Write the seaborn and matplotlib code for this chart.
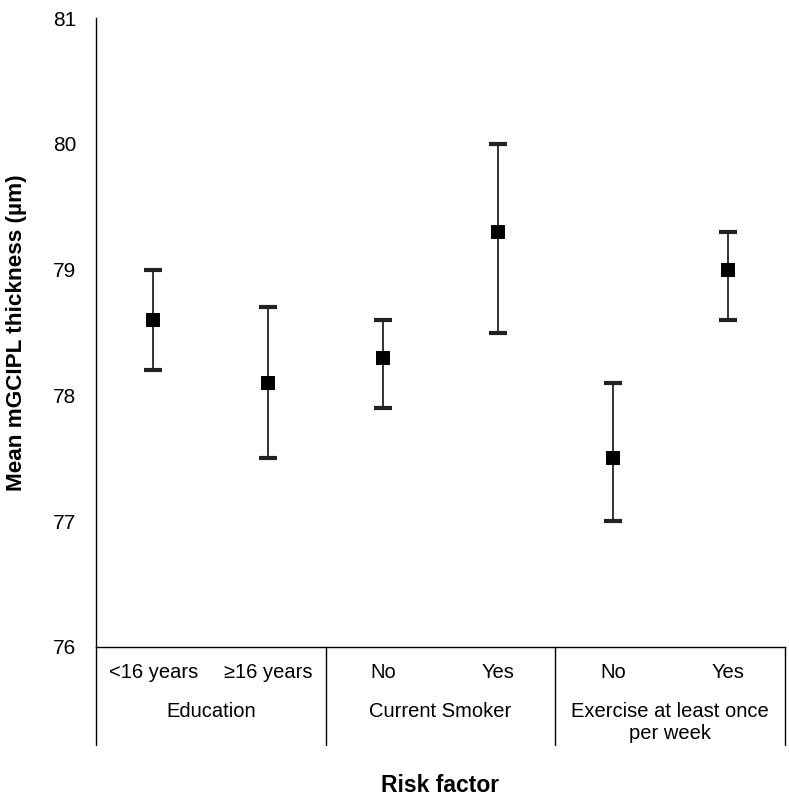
import numpy as np
import pandas as pd
import matplotlib
matplotlib.use("Agg")
import matplotlib.pyplot as plt
import seaborn as sns

# values
categories = ["<16 years", "\u226516 years", "No", "Yes", "No", "Yes"]
means = [78.6, 78.1, 78.3, 79.3, 77.5, 79.0]
lower = [78.2, 77.5, 77.9, 78.5, 77.0, 78.6]
upper = [79.0, 78.7, 78.6, 80.0, 78.1, 79.3]
groups = ["Education", "Current Smoker", "Exercise at least once\nper week"]

sns.set_theme(style="white")
plt.rcParams["font.family"] = ["Liberation Sans", "DejaVu Sans"]
plt.rcParams["text.color"] = "black"

df = pd.DataFrame({"pos": np.arange(len(categories)), "mean": means,
                   "lo": lower, "hi": upper})

fig = plt.figure(figsize=(7.89, 8.02), dpi=100)
ax = fig.add_axes([96 / 789, 1 - 647 / 802, (785 - 96) / 789, (647 - 18) / 802])

# error bars
ax.errorbar(df["pos"], df["mean"],
            yerr=[df["mean"] - df["lo"], df["hi"] - df["mean"]],
            fmt="none", ecolor="#222222", elinewidth=1.3,
            capsize=6.5, capthick=3, zorder=2)
sns.scatterplot(data=df, x="pos", y="mean", marker="s", s=110,
                color="black", edgecolor="black", linewidth=0, ax=ax, zorder=3)

ax.set_xlim(-0.5, len(categories) - 0.5)
ax.set_ylim(76, 81)
ax.set_yticks(range(76, 82))
ax.tick_params(axis="y", length=0, labelsize=15, pad=14, colors="black")
ax.set_xticks([])
ax.set_xlabel("")
ax.set_ylabel("Mean mGCIPL thickness (\u00b5m)", fontsize=16.2, fontweight="bold",
              labelpad=19, color="black")

for s in ["top", "right"]:
    ax.spines[s].set_visible(False)
for s in ["left", "bottom"]:
    ax.spines[s].set_color("black")
    ax.spines[s].set_linewidth(1.0)

trans = ax.get_xaxis_transform()
# category labels
for i, c in enumerate(categories):
    ax.text(i, -25 / 629, c, transform=trans, ha="center", va="center", fontsize=14.5)
# group labels
for g_i, g in enumerate(groups):
    ax.text(2 * g_i + 0.5, -55 / 629, g, transform=trans, ha="center", va="top",
            fontsize=14.5, linespacing=1.2)
# group separators, extending below the axis
for xs in [-0.5, 1.5, 3.5, 5.5]:
    ax.plot([xs, xs], [0, -98 / 629], transform=trans, color="black",
            lw=1.0, clip_on=False)

fig.text((96 + 785) / 2 / 789, 1 - 785 / 802, "Risk factor", ha="center", va="center",
         fontsize=16.5, fontweight="bold")

fig.savefig("out.png", dpi=100, facecolor="white")
